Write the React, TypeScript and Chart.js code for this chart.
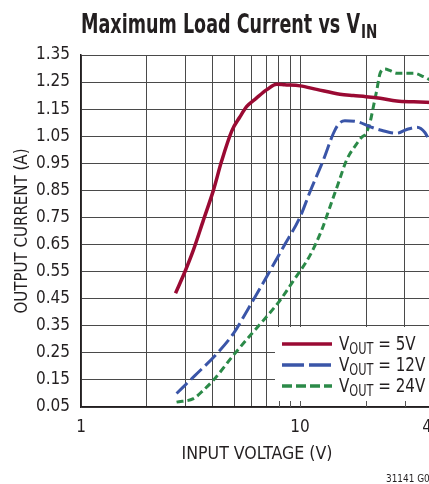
import React, { useEffect, useRef } from "react";
import { Chart, registerables } from "chart.js";

Chart.register(...registerables);

// ---- data ----
const vin5 = [2.7, 3.0, 3.26, 3.62, 4.02, 4.39, 4.88, 5.3, 5.71, 6.3, 7.05, 7.83, 8.5, 10, 11.9, 15.2, 17.5, 20, 23.2, 27.6, 33, 40];
const iout5 = [0.47, 0.555, 0.63, 0.74, 0.85, 0.96, 1.07, 1.12, 1.16, 1.19, 1.222, 1.242, 1.24, 1.236, 1.223, 1.205, 1.2, 1.196, 1.19, 1.18, 1.177, 1.175];

const vin12 = [2.73, 3.3, 4.17, 4.96, 5.81, 6.8, 8.39, 10, 11.1, 12.77, 14.2, 15.0, 16.0, 18.2, 20.9, 23.2, 27.6, 30.7, 34.1, 37.2, 38.8, 40];
const iout12 = [0.1, 0.165, 0.247, 0.321, 0.414, 0.51, 0.641, 0.752, 0.845, 0.962, 1.061, 1.095, 1.107, 1.104, 1.085, 1.073, 1.061, 1.075, 1.083, 1.063, 1.036, 1.02];

const vin24 = [2.73, 3.26, 3.62, 4.02, 4.96, 5.8, 6.8, 8.1, 9.3, 11.1, 12.5, 13.7, 15, 16.3, 18.2, 19.1, 20, 20.9, 21.6, 22.4, 23.2, 24.4, 25.8, 27.6, 32.9, 36.6, 38.8, 40];
const iout24 = [0.068, 0.081, 0.112, 0.149, 0.241, 0.306, 0.37, 0.444, 0.515, 0.61, 0.7, 0.79, 0.88, 0.962, 1.024, 1.046, 1.061, 1.104, 1.159, 1.221, 1.283, 1.298, 1.292, 1.283, 1.283, 1.27, 1.26, 1.255];

const xTickValues = [1, 2, 3, 4, 5, 6, 7, 8, 9, 10, 20, 30, 40];
const xTickLabels = [1, 10, 40];
const yTickValues = [0.05, 0.15, 0.25, 0.35, 0.45, 0.55, 0.65, 0.75, 0.85, 0.95, 1.05, 1.15, 1.25, 1.35];
const legendValues = ["5V", "12V", "24V"];

const COLORS = ["#9a0a33", "#3a55a8", "#2b8a48"];
const DASHES: number[][] = [[], [15, 5], [7, 4]];
const LEGEND_DASHES: number[][] = [[], [22, 5], [10, 4]];
const FONT = '"Liberation Sans Narrow", "DejaVu Sans Condensed", "Arial Narrow", sans-serif';
const TEXT = "#231f20";

const W = 470;
const H = 484;

// draws text squeezed horizontally (condensed look)
function fitText(ctx: CanvasRenderingContext2D, text: string, x: number, y: number, sx: number) {
  ctx.save();
  ctx.translate(x, y);
  ctx.scale(sx, 1);
  ctx.fillText(text, 0, 0);
  ctx.restore();
  return ctx.measureText(text).width * sx;
}

export default function App() {
  const ref = useRef<HTMLCanvasElement | null>(null);

  useEffect(() => {
    const canvas = ref.current;
    if (!canvas) return;

    const overlay = {
      id: "overlay",
      beforeDatasetsDraw(chart: any) {
        const ctx = chart.ctx;
        const a = chart.chartArea;
        const xs = chart.scales.x;
        const bx = 275;
        const by = 327;
        ctx.save();
        ctx.fillStyle = "#ffffff";
        ctx.fillRect(bx, by, a.right - bx, a.bottom - by - 1);
        ctx.strokeStyle = "#555";
        ctx.lineWidth = 1;
        xTickValues.forEach((v) => {
          const px = xs.getPixelForValue(v);
          if (px > bx && px < a.right) {
            ctx.beginPath();
            ctx.moveTo(Math.round(px) + 0.5, a.bottom);
            ctx.lineTo(Math.round(px) + 0.5, a.bottom - 6);
            ctx.stroke();
          }
        });
        ctx.restore();
      },
      afterDraw(chart: any) {
        const ctx = chart.ctx;
        const a = chart.chartArea;
        ctx.save();
        ctx.fillStyle = TEXT;
        ctx.textBaseline = "alphabetic";
        ctx.textAlign = "left";

        // title
        ctx.font = `bold 26px ${FONT}`;
        const t1 = "Maximum Load Current vs V";
        const sT = 279 / ctx.measureText(t1).width;
        const w1 = fitText(ctx, t1, 81, 33, sT);
        ctx.font = `bold 20px ${FONT}`;
        fitText(ctx, "IN", 81 + w1 + 1, 38, sT);

        // x axis title
        ctx.font = `18px ${FONT}`;
        const xt = "INPUT VOLTAGE (V)";
        const sx = 151 / ctx.measureText(xt).width;
        fitText(ctx, xt, 257 - 75.5, 459, sx);

        // y axis title (rotated)
        const yt = "OUTPUT CURRENT (A)";
        const sy = 165 / ctx.measureText(yt).width;
        ctx.save();
        ctx.translate(27, (a.top + a.bottom) / 2);
        ctx.rotate(-Math.PI / 2);
        fitText(ctx, yt, -82.5, 0, sy);
        ctx.restore();

        // figure code
        ctx.font = `11px ${FONT}`;
        fitText(ctx, "31141 G05", 386, 482, 0.9);

        // legend
        const rows = [344, 365, 386];
        legendValues.forEach((lab, i) => {
          const y = rows[i];
          ctx.save();
          ctx.strokeStyle = COLORS[i];
          ctx.lineWidth = 3.5;
          ctx.setLineDash(LEGEND_DASHES[i]);
          ctx.beginPath();
          ctx.moveTo(282, y);
          ctx.lineTo(332, y);
          ctx.stroke();
          ctx.restore();
          ctx.fillStyle = TEXT;
          const s = 0.84;
          let x = 339;
          ctx.font = `20px ${FONT}`;
          x += fitText(ctx, "V", x, y + 6, s);
          ctx.font = `15px ${FONT}`;
          x += fitText(ctx, "OUT", x, y + 10, s);
          ctx.font = `20px ${FONT}`;
          fitText(ctx, " = " + lab, x, y + 6, s);
        });
        ctx.restore();
      },
    };

    const mk = (xs: number[], ys: number[]) => xs.map((x, i) => ({ x, y: ys[i] }));

    const chart = new Chart(canvas, {
      type: "line",
      data: {
        datasets: [
          { label: "VOUT = 5V", data: mk(vin5, iout5), borderColor: COLORS[0], borderWidth: 3.5, borderDash: DASHES[0] },
          { label: "VOUT = 12V", data: mk(vin12, iout12), borderColor: COLORS[1], borderWidth: 3, borderDash: DASHES[1] },
          { label: "VOUT = 24V", data: mk(vin24, iout24), borderColor: COLORS[2], borderWidth: 3, borderDash: DASHES[2] },
        ],
      },
      options: {
        animation: false,
        responsive: false,
        devicePixelRatio: 1,
        layout: { padding: { top: 55, right: W - 432, left: 0, bottom: 0 } },
        elements: {
          point: { radius: 0 },
          line: { cubicInterpolationMode: "monotone", fill: false, borderCapStyle: "butt" },
        },
        plugins: {
          legend: { display: false },
          title: { display: false },
          tooltip: { enabled: false },
        },
        scales: {
          x: {
            type: "logarithmic",
            min: 1,
            max: 40,
            afterBuildTicks: (s: any) => {
              s.ticks = xTickValues.map((v) => ({ value: v }));
            },
            afterFit: (s: any) => {
              s.height = 77;
            },
            ticks: {
              autoSkip: false,
              maxRotation: 0,
              padding: 10,
              color: TEXT,
              font: { family: FONT, size: 17 },
              callback: (v: any) => (xTickLabels.includes(Number(v)) ? String(v) : ""),
            },
            grid: { color: "#4a4a4a", lineWidth: 1, drawTicks: false },
            border: { color: TEXT, width: 1.5 },
          },
          y: {
            type: "linear",
            min: 0.05,
            max: 1.35,
            afterBuildTicks: (s: any) => {
              s.ticks = yTickValues.map((v) => ({ value: v }));
            },
            afterFit: (s: any) => {
              s.width = 81;
            },
            ticks: {
              padding: 11,
              color: TEXT,
              font: { family: FONT, size: 17 },
              callback: (v: any) => Number(v).toFixed(2),
            },
            grid: { color: "#4a4a4a", lineWidth: 1, drawTicks: false },
            border: { color: TEXT, width: 1.5 },
          },
        },
      } as any,
      plugins: [overlay],
    });
    return () => chart.destroy();
  }, []);

  return (
    <div style={{ position: "fixed", left: 0, top: 0, width: 429, height: 484, overflow: "hidden", background: "#fff" }}>
      <canvas ref={ref} width={W} height={H} style={{ display: "block", width: W, height: H }} />
    </div>
  );
}
